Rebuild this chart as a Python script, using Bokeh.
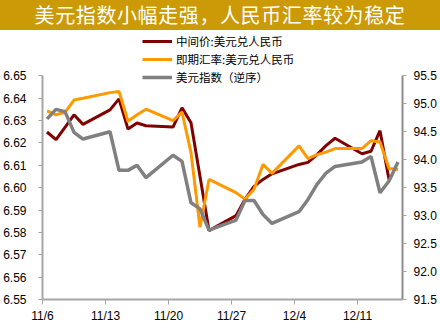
import datetime as dt
from bokeh.plotting import figure
from bokeh.models import (Range1d, LinearAxis, FixedTicker, Div, ColumnDataSource,
                          PrintfTickFormatter)
from bokeh.layouts import column
from bokeh.embed import file_html
from bokeh.resources import INLINE

# ---------------- data ----------------
dates = ["11/6", "11/7", "11/8", "11/9", "11/10",
         "11/13", "11/14", "11/15", "11/16", "11/17",
         "11/20", "11/21", "11/22", "11/23", "11/24",
         "11/27", "11/28", "11/29", "11/30", "12/1",
         "12/4", "12/5", "12/6", "12/7", "12/8",
         "12/11", "12/12", "12/13", "12/14", "12/15"]

central_parity = [6.6249, 6.6215, 6.6270, 6.6326, 6.6283,
                  6.6348, 6.6397, 6.6262, 6.6289, 6.6277,
                  6.6271, 6.6357, 6.6290, 6.6050, 6.5808,
                  6.5875, 6.5948, 6.6006, 6.6037, 6.6062,
                  6.6104, 6.6113, 6.6148, 6.6188, 6.6221,
                  6.6152, 6.6163, 6.6255, 6.6037, None]

spot_rate = [6.6343, 6.6326, 6.6337, 6.6392, 6.6400,
             6.6425, 6.6430, 6.6297, 6.6326, 6.6351,
             6.6300, 6.6338, 6.6157, 6.5823, 6.6037,
             6.5978, 6.5948, 6.5993, 6.6104, 6.6064,
             6.6187, 6.6130, 6.6148, 6.6159, 6.6175,
             6.6175, 6.6210, 6.6204, 6.6086, 6.6081]

dollar_index = [94.73, 94.90, 94.86, 94.49, 94.37,
                94.50, 93.81, 93.81, 93.90, 93.68,
                94.08, 93.97, 93.23, 93.12, 92.74,
                92.92, 93.27, 93.27, 93.02, 92.86,
                93.07, 93.29, 93.56, 93.76, 93.88,
                93.96, 94.06, 93.41, 93.62, 93.96]

x_tick_labels = ["11/6", "11/13", "11/20", "11/27", "12/4", "12/11"]
left_ticks = [6.55, 6.56, 6.57, 6.58, 6.59, 6.60, 6.61, 6.62, 6.63, 6.64, 6.65]
right_ticks = [91.5, 92.0, 92.5, 93.0, 93.5, 94.0, 94.5, 95.0, 95.5]

title_text = "美元指数小幅走强，人民币汇率较为稳定"
names = ["中间价:美元兑人民币", "即期汇率:美元兑人民币", "美元指数（逆序）"]

# ---------------- helpers ----------------
start = dt.date(2017, 11, 6)


def day_of(s):
    m, d = s.split("/")
    return (dt.date(2017, int(m), int(d)) - start).days


xs = [day_of(s) + 0.5 for s in dates]
nan = float("nan")
src = ColumnDataSource(dict(
    x=xs,
    a=[nan if v is None else v for v in central_parity],
    b=spot_rate,
    c=dollar_index,
))

FONT = "Liberation Sans"
CJK = "Noto Sans CJK SC"

# frame: 271 px tall; the tick span (225 px) sits at its bottom, headroom above for legend
FRAME_H = 271
SPAN_H = 225.3
head = (FRAME_H - SPAN_H) / SPAN_H
l_lo, l_hi = left_ticks[0], left_ticks[-1]
r_lo, r_hi = right_ticks[0], right_ticks[-1]

p = figure(width=440, height=295, output_backend="svg", toolbar_location=None,
           x_range=Range1d(0, 40),
           y_range=Range1d(l_lo, l_hi + (l_hi - l_lo) * head),
           min_border_left=42, min_border_right=38, min_border_top=0,
           min_border_bottom=24)
p.margin = 0
p.outline_line_color = None
p.xgrid.visible = False
p.ygrid.visible = False
p.background_fill_color = "white"
p.border_fill_color = "white"

p.extra_y_ranges = {"dxy": Range1d(r_lo, r_hi + (r_hi - r_lo) * head)}

p.line("x", "a", source=src, line_color="#800000", line_width=3, legend_label=names[0])
p.line("x", "b", source=src, line_color="#FF9900", line_width=3, legend_label=names[1])
p.line("x", "c", source=src, line_color="#808080", line_width=3.5, legend_label=names[2],
       y_range_name="dxy")

axis_color = "#A6A6A6"

# bottom axis
xa = p.xaxis[0]
xt = [day_of(s) for s in x_tick_labels]
xa.ticker = FixedTicker(ticks=xt)
xa.major_label_overrides = {t: lab for t, lab in zip(xt, x_tick_labels)}
xa.axis_line_color = axis_color
xa.axis_line_width = 2
xa.major_tick_line_color = axis_color
xa.major_tick_line_width = 1
xa.major_tick_in = 0
xa.major_tick_out = 5
xa.minor_tick_line_color = None
xa.major_label_standoff = 4
xa.major_label_text_font = FONT
xa.major_label_text_font_size = "12px"
xa.major_label_text_color = "#000000"

# left axis
ya = p.yaxis[0]
ya.bounds = (l_lo, l_hi)
ya.ticker = FixedTicker(ticks=left_ticks)
ya.formatter = PrintfTickFormatter(format="%.2f")
ya.axis_line_color = axis_color
ya.axis_line_width = 2
ya.major_tick_line_color = axis_color
ya.major_tick_in = 0
ya.major_tick_out = 4
ya.minor_tick_line_color = None
ya.major_label_standoff = 12
ya.major_label_text_font = FONT
ya.major_label_text_font_size = "12px"
ya.major_label_text_color = "#000000"

# right axis
ra = LinearAxis(y_range_name="dxy", ticker=FixedTicker(ticks=right_ticks),
                formatter=PrintfTickFormatter(format="%.1f"), bounds=(r_lo, r_hi))
ra.axis_line_color = "#8C8C8C"
ra.axis_line_width = 2
ra.major_tick_line_color = axis_color
ra.major_tick_in = 0
ra.major_tick_out = 4
ra.minor_tick_line_color = None
ra.major_label_standoff = 7
ra.major_label_text_font = FONT
ra.major_label_text_font_size = "12px"
ra.major_label_text_color = "#000000"
p.add_layout(ra, "right")

# legend
lg = p.legend[0]
lg.location = (98, 211)
lg.label_text_font = CJK
lg.label_text_font_size = "11.5px"
lg.label_text_color = "#000000"
lg.label_height = 18
lg.glyph_height = 18
lg.glyph_width = 30
lg.label_standoff = 4
lg.spacing = 0
lg.padding = 2
lg.margin = 0
lg.border_line_alpha = 0
lg.background_fill_color = "white"
lg.background_fill_alpha = 1.0

banner = Div(
    text=('<div style="width:440px;height:30px;background:#CC9A06;color:#ffffff;'
          'font-family:\'Noto Sans CJK SC\';font-size:20px;line-height:29px;'
          'text-align:center;letter-spacing:0.6px;white-space:nowrap;">'
          + title_text + '</div>'),
    width=440, height=30, margin=0)

layout = column(banner, p, spacing=0, margin=0)

open("out.html", "w").write(file_html(layout, INLINE))
